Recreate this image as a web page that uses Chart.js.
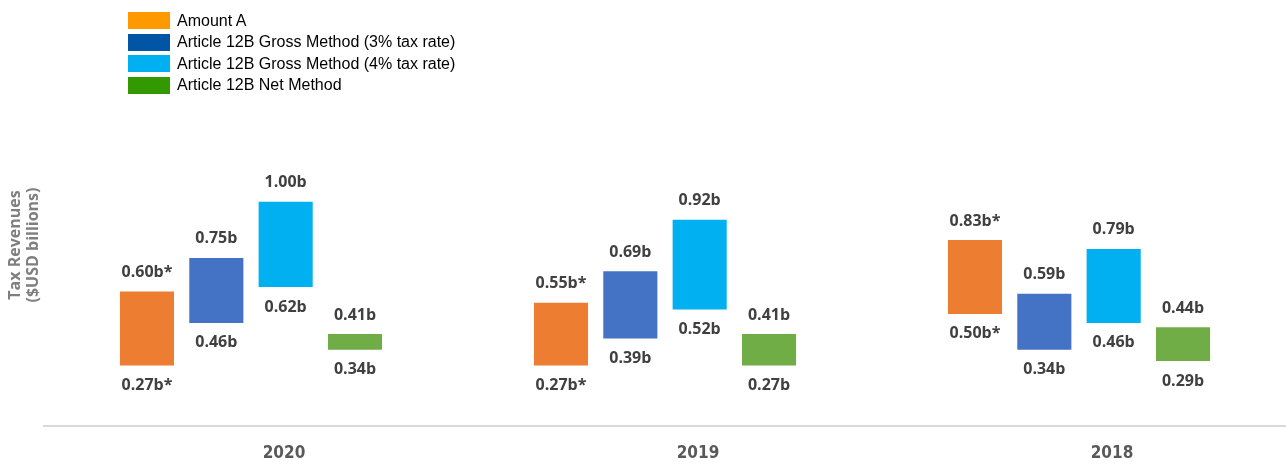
<!DOCTYPE html>
<html>
<head>
<meta charset="utf-8">
<script src="https://cdn.jsdelivr.net/npm/chart.js@4.4.0/dist/chart.umd.min.js"></script>
<style>
  body { margin: 0; background: #fff; }
  #wrap { position: relative; width: 1286px; height: 464px; }
  #legend { position: absolute; left: 128px; top: 10px; font: 16px "Liberation Sans", Arial, sans-serif; color: #000; }
  #legend div { height: 21.5px; display: flex; align-items: center; }
  #legend span.box { display: inline-block; width: 42px; height: 17px; margin-right: 7px; }
</style>
</head>
<body>
<div id="wrap">
  <canvas id="chart-area" width="1286" height="464"></canvas>
  <div id="legend"></div>
</div>
<script>
var years = ['2020', '2019', '2018'];
var seriesNames = [
  'Amount A',
  'Article 12B Gross Method (3% tax rate)',
  'Article 12B Gross Method (4% tax rate)',
  'Article 12B Net Method'
];
// [low, high] per year
var amountA = [[0.27, 0.60], [0.27, 0.55], [0.50, 0.83]];
var gross3 = [[0.46, 0.75], [0.39, 0.69], [0.34, 0.59]];
var gross4 = [[0.62, 1.00], [0.52, 0.92], [0.46, 0.79]];
var netMethod = [[0.34, 0.41], [0.27, 0.41], [0.29, 0.44]];
var labelSuffix = ['b*', 'b', 'b', 'b'];

var barColors = ['#ED7D31', '#4472C4', '#00B0F0', '#70AD47'];
var legendColors = ['#FF9900', '#0055A5', '#00B0F0', '#339900'];

var allSeries = [amountA, gross3, gross4, netMethod];

// html legend
var legendEl = document.getElementById('legend');
seriesNames.forEach(function(name, i) {
  var row = document.createElement('div');
  row.innerHTML = '<span class="box" style="background:' + legendColors[i] + '"></span>' + name;
  legendEl.appendChild(row);
});

var rangeLabels = {
  id: 'rangeLabels',
  afterDatasetsDraw: function(chart) {
    var ctx = chart.ctx;
    ctx.save();
    ctx.font = 'bold 16px "Open Sans", sans-serif';
    ctx.fillStyle = '#404040';
    ctx.textAlign = 'center';
    ctx.textBaseline = 'middle';
    chart.data.datasets.forEach(function(ds, di) {
      var meta = chart.getDatasetMeta(di);
      meta.data.forEach(function(bar, i) {
        var v = ds.data[i];
        ctx.fillText(v[1].toFixed(2) + labelSuffix[di], bar.x, bar.y - 19);
        ctx.fillText(v[0].toFixed(2) + labelSuffix[di], bar.x, bar.base + 20);
      });
    });
    // year labels (shifted right of the groups, like the original)
    var xs = chart.scales.x;
    ctx.fillStyle = '#595959';
    ctx.font = 'bold 17px "Liberation Sans Narrow", "DejaVu Sans", sans-serif';
    if ('fontStretch' in ctx) ctx.fontStretch = 'condensed';
    years.forEach(function(y, i) {
      ctx.fillText(y, xs.getPixelForTick(i) + 33, chart.chartArea.bottom + 28);
    });
    if ('fontStretch' in ctx) ctx.fontStretch = 'normal';
    // axis title
    ctx.fillStyle = '#7F7F7F';
    ctx.font = 'bold 16px "Open Sans", sans-serif';
    ctx.translate(24, 245);
    ctx.rotate(-Math.PI / 2);
    ctx.fillText('Tax Revenues', 0, -9);
    ctx.fillText('($USD billions)', 0, 9);
    ctx.restore();
  }
};

window.onload = function() {
  var ctx = document.getElementById('chart-area').getContext('2d');
  var config = {
    type: 'bar',
    data: {
      labels: years,
      datasets: allSeries.map(function(s, i) {
        return {
          label: seriesNames[i],
          data: s,
          backgroundColor: barColors[i],
          borderWidth: 0,
          categoryPercentage: 0.67,
          barPercentage: 0.78
        };
      })
    },
    options: {
      responsive: false,
      animation: false,
      layout: { padding: { left: 44, right: -4, top: 157, bottom: 38 } },
      plugins: {
        legend: { display: false },
        tooltip: { enabled: false }
      },
      scales: {
        x: {
          grid: { display: false, drawTicks: false },
          border: { display: true, color: '#D9D9D9', width: 2 },
          ticks: { display: false }
        },
        y: {
          display: false,
          min: 0,
          max: 1.2
        }
      }
    },
    plugins: [rangeLabels]
  };
  window.myBar = new Chart(ctx, config);
};
</script>
</body>
</html>
